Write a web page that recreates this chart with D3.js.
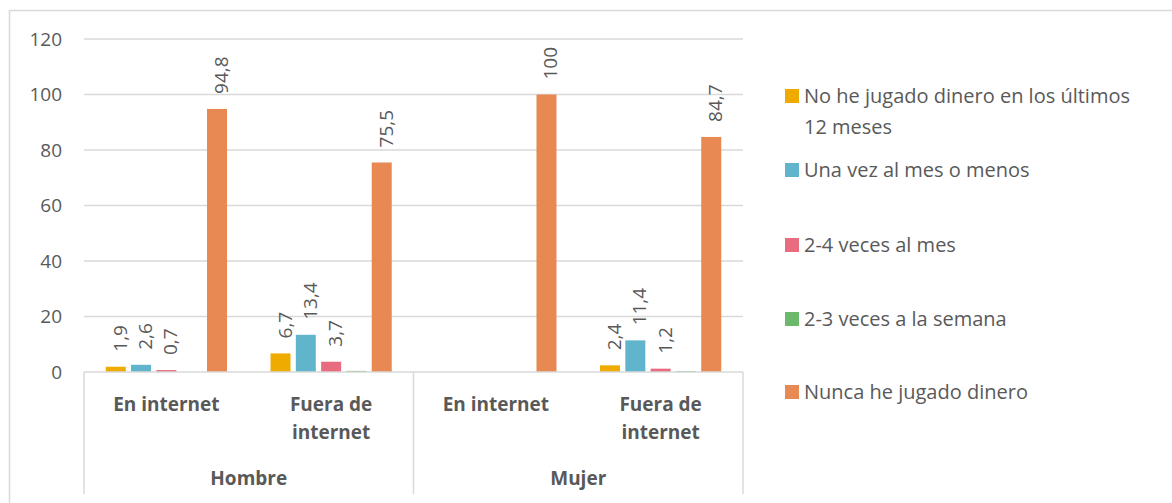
<!DOCTYPE html>
<html>
<head>
<meta charset="utf-8">
<script src="https://cdn.jsdelivr.net/npm/d3@7"></script>
<style>
  body { margin: 0; background: #fff; }
  text { font-family: "Open Sans", Lato, sans-serif; fill: #595959; }
</style>
</head>
<body>
<script>
// données
const grupos = ["Hombre", "Mujer"];
const categorias = ["Hombre|En internet", "Hombre|Fuera de internet", "Mujer|En internet", "Mujer|Fuera de internet"];
const etiquetasCat = [["En internet"], ["Fuera de", "internet"], ["En internet"], ["Fuera de", "internet"]];
const series = ["No he jugado dinero en los últimos 12 meses", "Una vez al mes o menos", "2-4 veces al mes", "2-3 veces a la semana", "Nunca he jugado dinero"];
const colores = ["#f0ab00", "#60b5cd", "#e86b7f", "#6cb96c", "#e88852"];
// valores por serie (una fila por serie, una columna por categoría)
const valores = [
  [1.9, 6.7, 0, 2.4],
  [2.6, 13.4, 0, 11.4],
  [0.7, 3.7, 0, 1.2],
  [0, 0.4, 0, 0.3],
  [94.8, 75.5, 100, 84.7]
];
// etiquetas visibles (null = sin etiqueta)
const etiquetas = [
  ["1,9", "6,7", null, "2,4"],
  ["2,6", "13,4", null, "11,4"],
  ["0,7", "3,7", null, "1,2"],
  [null, null, null, null],
  ["94,8", "75,5", "100", "84,7"]
];
const ticksY = [0, 20, 40, 60, 80, 100, 120];

const largeur = 1172, hauteur = 503;
const gauche = 84, droite = 743, haut = 39, bas = 372;

const svg = d3.select("body").append("svg")
  .attr("width", largeur)
  .attr("height", hauteur);

// cadre extérieur
svg.append("path")
  .attr("d", `M9.5,${hauteur} V10.5 H${largeur}`)
  .attr("fill", "none")
  .attr("stroke", "#d9d9d9")
  .attr("stroke-width", 1.5);

const y = d3.scaleLinear().domain([0, 120]).range([bas, haut]);
const x0 = d3.scaleBand().domain(categorias).range([gauche, droite]).paddingInner(0).paddingOuter(0);
const x1 = d3.scaleBand().domain(d3.range(series.length)).range([0, x0.bandwidth()]).paddingInner(0.21).paddingOuter(0.86);

// grille
svg.append("g").selectAll("line")
  .data(ticksY.filter(d => d > 0))
  .join("line")
  .attr("x1", gauche).attr("x2", droite)
  .attr("y1", d => y(d)).attr("y2", d => y(d))
  .attr("stroke", "#d9d9d9").attr("stroke-width", 1.5);

// axe Y
const axeY = d3.axisLeft(y).tickValues(ticksY).tickSize(0).tickPadding(22);
const gY = svg.append("g").attr("transform", `translate(${gauche},0)`).call(axeY);
gY.select(".domain").remove();
gY.selectAll("text").style("font-size", "19px").style("fill", "#595959").style("font-family", "'Open Sans', sans-serif");

// barres
categorias.forEach((cat, ci) => {
  series.forEach((s, si) => {
    const v = valores[si][ci];
    const bx = x0(cat) + x1(si);
    if (v > 0) {
      svg.append("rect")
        .attr("x", bx)
        .attr("y", y(v))
        .attr("width", x1.bandwidth())
        .attr("height", y(0) - y(v))
        .attr("fill", colores[si]);
    }
    const lab = etiquetas[si][ci];
    if (lab) {
      const cx = bx + x1.bandwidth() / 2;
      const ty = y(v) - 15;
      svg.append("text")
        .attr("transform", `translate(${cx + 11},${ty}) rotate(-90)`)
        .attr("text-anchor", "start")
        .style("font-size", "19px")
        .text(lab);
    }
  });
});

// axe des catégories
svg.append("line")
  .attr("x1", gauche).attr("x2", droite)
  .attr("y1", bas).attr("y2", bas)
  .attr("stroke", "#d9d9d9").attr("stroke-width", 1.5);
[gauche, x0(categorias[2]), droite].forEach(xx => {
  svg.append("line")
    .attr("x1", xx).attr("x2", xx)
    .attr("y1", bas).attr("y2", 494)
    .attr("stroke", "#d9d9d9").attr("stroke-width", 1.5);
});

categorias.forEach((cat, ci) => {
  const cx = x0(cat) + x0.bandwidth() / 2;
  etiquetasCat[ci].forEach((l, li) => {
    svg.append("text")
      .attr("x", cx)
      .attr("y", 411 + li * 28)
      .attr("text-anchor", "middle")
      .style("font-size", "19px")
      .style("font-weight", "bold")
      .text(l);
  });
});
grupos.forEach((g, gi) => {
  const cx = x0(categorias[gi * 2]) + x0.bandwidth();
  svg.append("text")
    .attr("x", cx)
    .attr("y", 485)
    .attr("text-anchor", "middle")
    .style("font-size", "19px")
    .style("font-weight", "bold")
    .text(g);
});

// légende
const legendeY = [96, 170, 245, 319, 392];
const legendeTextes = [["No he jugado dinero en los últimos", "12 meses"], ["Una vez al mes o menos"], ["2-4 veces al mes"], ["2-3 veces a la semana"], ["Nunca he jugado dinero"]];
series.forEach((s, si) => {
  svg.append("rect")
    .attr("x", 785).attr("y", legendeY[si] - 7)
    .attr("width", 14).attr("height", 14)
    .attr("fill", colores[si]);
  legendeTextes[si].forEach((l, li) => {
    svg.append("text")
      .attr("x", 804)
      .attr("y", legendeY[si] + 7 + li * 31)
      .style("font-size", "20px")
      .text(l);
  });
});
</script>
</body>
</html>
